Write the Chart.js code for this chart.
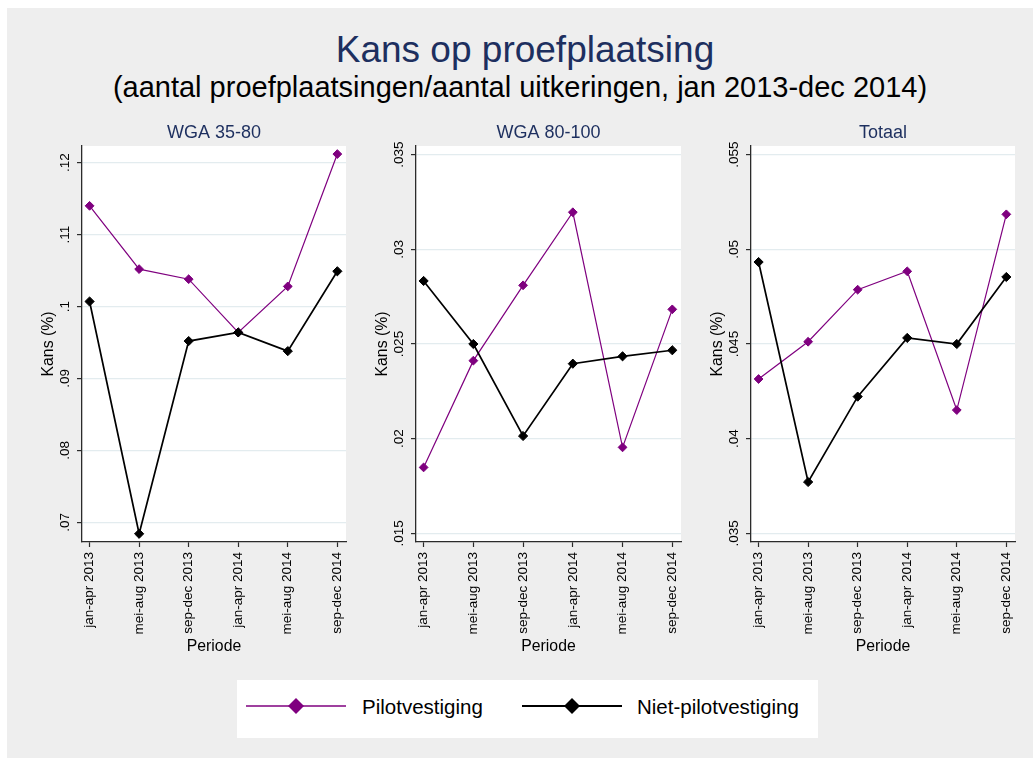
<!DOCTYPE html>
<html>
<head>
<meta charset="utf-8">
<script src="https://cdn.jsdelivr.net/npm/chart.js@4.4.1/dist/chart.umd.min.js"></script>
<style>
  html, body { margin: 0; padding: 0; background: #ffffff; }
  body { width: 1033px; height: 758px; position: relative; overflow: hidden; font-family: "Liberation Sans", Arial, sans-serif; }
  #bg { position: absolute; left: 7px; top: 8px; width: 1026px; height: 750px; background: #eeeeee; }
  .t { position: absolute; white-space: nowrap; line-height: 1; text-align: center; }
  #title { left: 12px; width: 1026px; top: 31px; font-size: 37px; color: #1d2f5f; }
  #subtitle { left: 7px; width: 1026px; top: 73px; font-size: 29px; color: #000; }
  canvas { position: absolute; }
  #legend { position: absolute; left: 237px; top: 680px; width: 581px; height: 58px; background: #fff; }
  #legend svg { position: absolute; left: 0; top: 0; }
  .lt { position: absolute; font-size: 20.5px; line-height: 1; color: #000; white-space: nowrap; }
</style>
</head>
<body>
<div id="bg"></div>
<div class="t" id="title">Kans op proefplaatsing</div>
<div class="t" id="subtitle">(aantal proefplaatsingen/aantal uitkeringen, jan 2013-dec 2014)</div>
<canvas id="c1"></canvas>
<canvas id="c2"></canvas>
<canvas id="c3"></canvas>
<div id="legend">
  <svg width="581" height="58">
    <line x1="9" y1="26" x2="109" y2="26" stroke="#7f007f" stroke-width="1.6"/>
    <polygon points="59,18 67,26 59,34 51,26" fill="#7f007f"/>
    <line x1="285" y1="26" x2="385" y2="26" stroke="#000" stroke-width="2"/>
    <polygon points="335,18 343,26 335,34 327,26" fill="#000"/>
  </svg>
  <div class="lt" style="left:125px; top:17px;">Pilotvestiging</div>
  <div class="lt" style="left:400px; top:17px;">Niet-pilotvestiging</div>
</div>
<script>
// ---------------- data ----------------
const categories = ['jan-apr 2013', 'mei-aug 2013', 'sep-dec 2013', 'jan-apr 2014', 'mei-aug 2014', 'sep-dec 2014'];
const seriesNames = ['Pilotvestiging', 'Niet-pilotvestiging'];
const panelTitles = ['WGA 35-80', 'WGA 80-100', 'Totaal'];

const wga3580Pilot = [0.1140, 0.1052, 0.1038, 0.0964, 0.1028, 0.1212];
const wga3580Niet  = [0.1007, 0.0684, 0.0952, 0.0964, 0.0938, 0.1049];
const wga80100Pilot = [0.01848, 0.02412, 0.02810, 0.03196, 0.01954, 0.02683];
const wga80100Niet  = [0.02833, 0.02500, 0.02014, 0.02396, 0.02435, 0.02467];
const totaalPilot = [0.04315, 0.04512, 0.04787, 0.04884, 0.04151, 0.05185];
const totaalNiet  = [0.04933, 0.03771, 0.04222, 0.04532, 0.04500, 0.04854];

const ticks3580  = [0.07, 0.08, 0.09, 0.10, 0.11, 0.12];
const ticks80100 = [0.015, 0.020, 0.025, 0.030, 0.035];
const ticksTotaal = [0.035, 0.040, 0.045, 0.050, 0.055];

// ---------------- styling / layout ----------------
const PURPLE = '#7f007f';
const NAVY = '#1d2f5f';
const AXIS = '#2b2b2b';
const GRID = '#e3ecef';
const REG = '"Liberation Sans", Arial, sans-serif';

function fontAvailable(name) {
  const c = document.createElement('canvas').getContext('2d');
  const s = 'jan-apr 2013 mmWiW.0';
  c.font = '40px monospace'; const w1 = c.measureText(s).width;
  c.font = '40px "' + name + '", monospace'; const w2 = c.measureText(s).width;
  return Math.abs(w1 - w2) > 0.5;
}
const hasNarrow = fontAvailable('Liberation Sans Narrow');
const tickFont = hasNarrow ? { family: '"Liberation Sans Narrow", ' + REG, size: 16 } : { family: REG, size: 13.5 };

function fmt(v) { return (+v.toFixed(4)).toString().replace(/^0\./, '.'); }
function measure(txt) {
  const c = document.createElement('canvas').getContext('2d');
  c.font = tickFont.size + 'px ' + tickFont.family;
  return c.measureText(txt).width;
}

const panels = [
  { id: 'c1', title: panelTitles[0], pilot: wga3580Pilot, niet: wga3580Niet, ticks: ticks3580, min: 0.06726, max: 0.12232, L: 81.7, R: 346 },
  { id: 'c2', title: panelTitles[1], pilot: wga80100Pilot, niet: wga80100Niet, ticks: ticks80100, min: 0.01454, max: 0.03546, L: 416, R: 681 },
  { id: 'c3', title: panelTitles[2], pilot: totaalPilot, niet: totaalNiet, ticks: ticksTotaal, min: 0.03454, max: 0.05546, L: 751, R: 1015 },
];

const TOP = 118, HEIGHT = 548, YW = 62, PADR = 22, AREA_BOTTOM = 542;

const bgPlugin = {
  id: 'plotBg',
  beforeDraw(chart) {
    const { ctx, chartArea: a } = chart;
    ctx.save();
    ctx.fillStyle = '#ffffff';
    ctx.fillRect(a.left, a.top, a.right - a.left, a.bottom - a.top);
    ctx.restore();
  }
};

panels.forEach(p => {
  const cv = document.getElementById(p.id);
  const w = Math.round(p.R - p.L + YW + PADR);
  cv.width = w; cv.height = HEIGHT;
  cv.style.left = (p.L - YW) + 'px';
  cv.style.top = TOP + 'px';
  cv.style.width = w + 'px'; cv.style.height = HEIGHT + 'px';

  const widest = Math.max(...p.ticks.map(v => measure(fmt(v))));
  const yPad = 11.5 - widest / 2;

  const toPts = arr => arr.map((v, i) => ({ x: i, y: v }));

  new Chart(cv, {
    type: 'line',
    data: {
      datasets: [
        { label: seriesNames[1], data: toPts(p.niet), borderColor: '#000', backgroundColor: '#000', borderWidth: 1.7,
          pointStyle: 'rectRot', pointRadius: 4.6, pointBorderWidth: 1, pointBackgroundColor: '#000', pointBorderColor: '#000', order: 0, tension: 0 },
        { label: seriesNames[0], data: toPts(p.pilot), borderColor: PURPLE, backgroundColor: PURPLE, borderWidth: 1.2,
          pointStyle: 'rectRot', pointRadius: 4.4, pointBorderWidth: 1, pointBackgroundColor: PURPLE, pointBorderColor: PURPLE, order: 1, tension: 0 },
      ]
    },
    options: {
      responsive: false,
      animation: false,
      devicePixelRatio: 1,
      layout: { padding: { left: 0, right: PADR, top: 0, bottom: 0 } },
      plugins: {
        legend: { display: false },
        tooltip: { enabled: false },
        title: { display: true, text: p.title, color: NAVY, fullSize: false,
          font: { family: REG, size: 18, weight: 'normal', lineHeight: 1.2 }, padding: { top: 4, bottom: 2.4 } }
      },
      scales: {
        x: {
          type: 'linear', min: -0.153, max: 5.175,
          afterBuildTicks: axis => { axis.ticks = categories.map((c, i) => ({ value: i })); },
          afterFit: axis => { axis.height = TOP + HEIGHT - AREA_BOTTOM; },
          ticks: { autoSkip: false, minRotation: 90, maxRotation: 90, padding: 5, color: '#000', font: tickFont,
            callback: (v) => categories[Math.round(v)] },
          grid: { drawOnChartArea: false, tickLength: 5, tickColor: AXIS, tickWidth: 1.2 },
          border: { display: true, color: AXIS, width: 1.3 },
          title: { display: true, text: 'Periode', color: '#000', font: { family: REG, size: 15.8, lineHeight: 1.2 }, padding: { top: 0, bottom: 9.7 } }
        },
        y: {
          type: 'linear', min: p.min, max: p.max,
          afterBuildTicks: axis => { axis.ticks = p.ticks.map(v => ({ value: v })); },
          afterFit: axis => { axis.width = YW; },
          ticks: { minRotation: 90, maxRotation: 90, crossAlign: 'center', padding: yPad, color: '#000', font: tickFont,
            callback: v => fmt(v) },
          grid: { color: GRID, lineWidth: 1.2, tickLength: 5, tickColor: AXIS, tickWidth: 1.2 },
          border: { display: true, color: AXIS, width: 1.3 },
          title: { display: true, text: 'Kans (%)', color: '#000', font: { family: REG, size: 15.8, lineHeight: 1.2 }, padding: { top: 19.3, bottom: 0 } }
        }
      }
    },
    plugins: [bgPlugin]
  });
});
</script>
</body>
</html>
